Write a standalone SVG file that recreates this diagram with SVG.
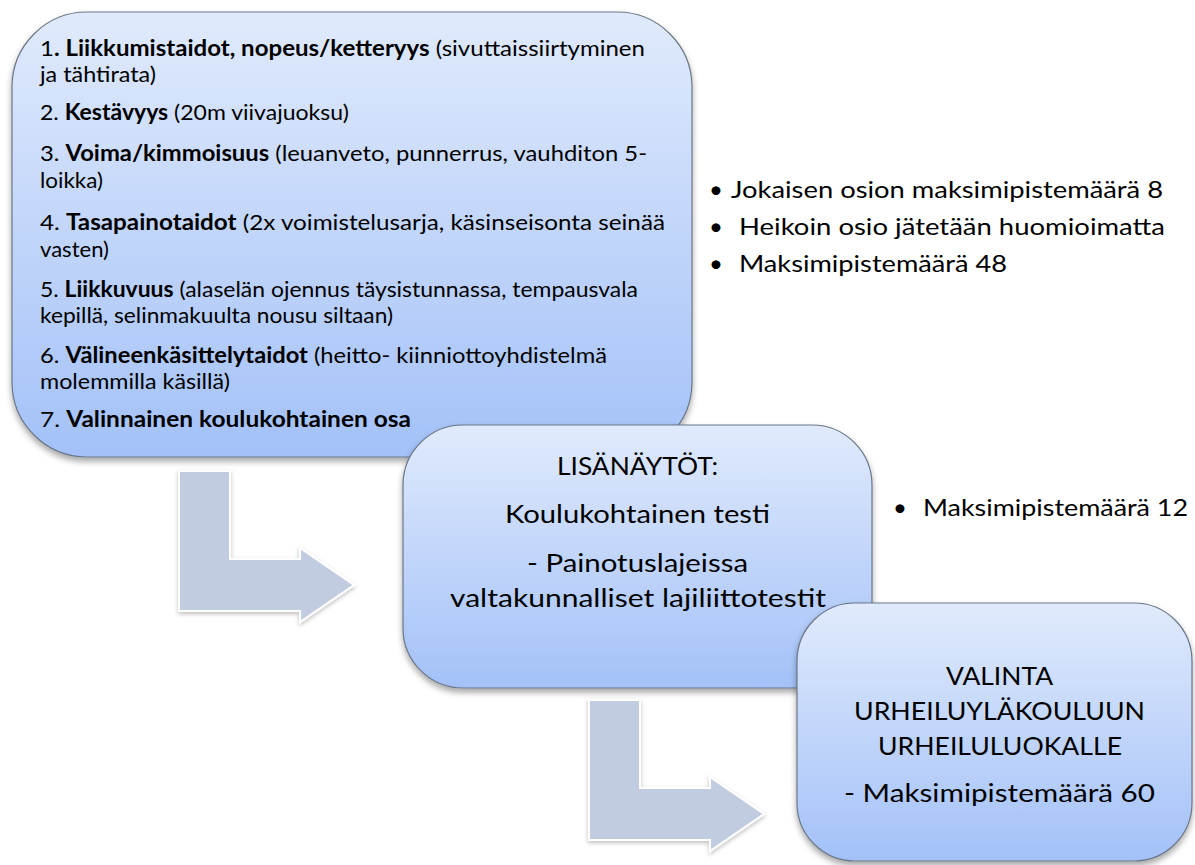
<svg xmlns="http://www.w3.org/2000/svg" width="1195" height="865" viewBox="0 0 1195 865">
<defs>
<linearGradient id="bg" x1="0" y1="0" x2="0" y2="1">
<stop offset="0" stop-color="#e0eafc"/>
<stop offset="1" stop-color="#a3c1f8"/>
</linearGradient>
<filter id="sh" x="-10%" y="-10%" width="120%" height="130%">
<feDropShadow dx="0" dy="4" stdDeviation="3" flood-color="#000" flood-opacity="0.35"/>
</filter>
<filter id="ash" x="-20%" y="-20%" width="140%" height="140%">
<feDropShadow dx="0" dy="2" stdDeviation="2" flood-color="#000" flood-opacity="0.25"/>
</filter>
</defs>
<style>
.box{fill:url(#bg);stroke:#6a7687;stroke-width:1.2;filter:url(#sh)}
.arr{fill:#c1cce0;stroke:#fff;stroke-width:2;filter:url(#ash)}
text{font-family:Lato,"Open Sans","Liberation Sans",sans-serif;fill:#000}
.t1{font-size:22px}
.b{font-weight:bold}
.t2{font-size:24px}
.c{text-anchor:middle;font-size:24.5px}
</style>
<rect width="1195" height="865" fill="#fff"/>
<g id="node-tests">
<rect class="box" x="12" y="12" width="680" height="445" rx="75" ry="75"/>
<text class="t1" x="40" y="56" textLength="605" lengthAdjust="spacingAndGlyphs">1<tspan class="b">. Liikkumistaidot, nopeus/ketteryys</tspan> (sivuttaissiirtyminen</text>
<text class="t1" x="40" y="82" textLength="116" lengthAdjust="spacingAndGlyphs">ja tähtirata)</text>
<text class="t1" x="40" y="120" textLength="309" lengthAdjust="spacingAndGlyphs">2. <tspan class="b">Kestävyys</tspan> (20m viivajuoksu)</text>
<text class="t1" x="40" y="161" textLength="607" lengthAdjust="spacingAndGlyphs">3. <tspan class="b">Voima/kimmoisuus</tspan> (leuanveto, punnerrus, vauhditon 5-</text>
<text class="t1" x="40" y="188" textLength="63" lengthAdjust="spacingAndGlyphs">loikka)</text>
<text class="t1" x="40" y="230" textLength="625" lengthAdjust="spacingAndGlyphs">4. <tspan class="b">Tasapainotaidot</tspan> (2x voimistelusarja, käsinseisonta seinää</text>
<text class="t1" x="40" y="257" textLength="69" lengthAdjust="spacingAndGlyphs">vasten)</text>
<text class="t1" x="40" y="297" textLength="598" lengthAdjust="spacingAndGlyphs">5. <tspan class="b">Liikkuvuus</tspan> (alaselän ojennus täysistunnassa, tempausvala</text>
<text class="t1" x="40" y="323" textLength="353" lengthAdjust="spacingAndGlyphs">kepillä, selinmakuulta nousu siltaan)</text>
<text class="t1" x="40" y="363" textLength="567" lengthAdjust="spacingAndGlyphs">6. <tspan class="b">Välineenkäsittelytaidot</tspan> (heitto- kiinniottoyhdistelmä</text>
<text class="t1" x="40" y="389" textLength="190" lengthAdjust="spacingAndGlyphs">molemmilla käsillä)</text>
<text class="t1" x="40" y="427" textLength="371" lengthAdjust="spacingAndGlyphs">7. <tspan class="b">Valinnainen koulukohtainen osa</tspan></text>
</g>
<g id="connectors">
<path class="arr" d="M179,471 H230 V559 H300 V548 L354,585 L300,622 V611 H179 Z"/>
<path class="arr" d="M179,471 H230 V559 H300 V548 L354,585 L300,622 V611 H179 Z" transform="translate(410,229)"/>
</g>
<g id="node-notes1">
<text class="t2" x="709" y="198">•</text>
<text class="t2" x="731" y="198" textLength="432" lengthAdjust="spacingAndGlyphs">Jokaisen osion maksimipistemäärä 8</text>
<text class="t2" x="709" y="235">•</text>
<text class="t2" x="739" y="235" textLength="426" lengthAdjust="spacingAndGlyphs">Heikoin osio jätetään huomioimatta</text>
<text class="t2" x="709" y="272">•</text>
<text class="t2" x="739" y="272" textLength="268" lengthAdjust="spacingAndGlyphs">Maksimipistemäärä 48</text>
</g>
<g id="node-extra">
<rect class="box" x="403" y="425" width="469" height="263" rx="60" ry="60"/>
<text class="c" x="637.5" y="475" textLength="161" lengthAdjust="spacingAndGlyphs">LISÄNÄYTÖT:</text>
<text class="c" x="637.5" y="523" textLength="265" lengthAdjust="spacingAndGlyphs">Koulukohtainen testi</text>
<text class="c" x="637.5" y="572" textLength="221" lengthAdjust="spacingAndGlyphs">- Painotuslajeissa</text>
<text class="c" x="638" y="607" textLength="376" lengthAdjust="spacingAndGlyphs">valtakunnalliset lajiliittotestit</text>
</g>
<g id="node-notes2">
<text class="t2" x="893" y="516">•</text>
<text class="t2" x="923" y="516" textLength="265" lengthAdjust="spacingAndGlyphs">Maksimipistemäärä 12</text>
</g>
<g id="node-selection">
<rect class="box" x="797" y="603" width="395" height="258" rx="58" ry="58"/>
<text class="c" x="999.5" y="685" textLength="107" lengthAdjust="spacingAndGlyphs">VALINTA</text>
<text class="c" x="999.5" y="720" textLength="291" lengthAdjust="spacingAndGlyphs">URHEILUYLÄKOULUUN</text>
<text class="c" x="1000" y="755" textLength="244" lengthAdjust="spacingAndGlyphs">URHEILULUOKALLE</text>
<text class="c" x="999.5" y="802" textLength="311" lengthAdjust="spacingAndGlyphs">- Maksimipistemäärä 60</text>
</g>
</svg>
